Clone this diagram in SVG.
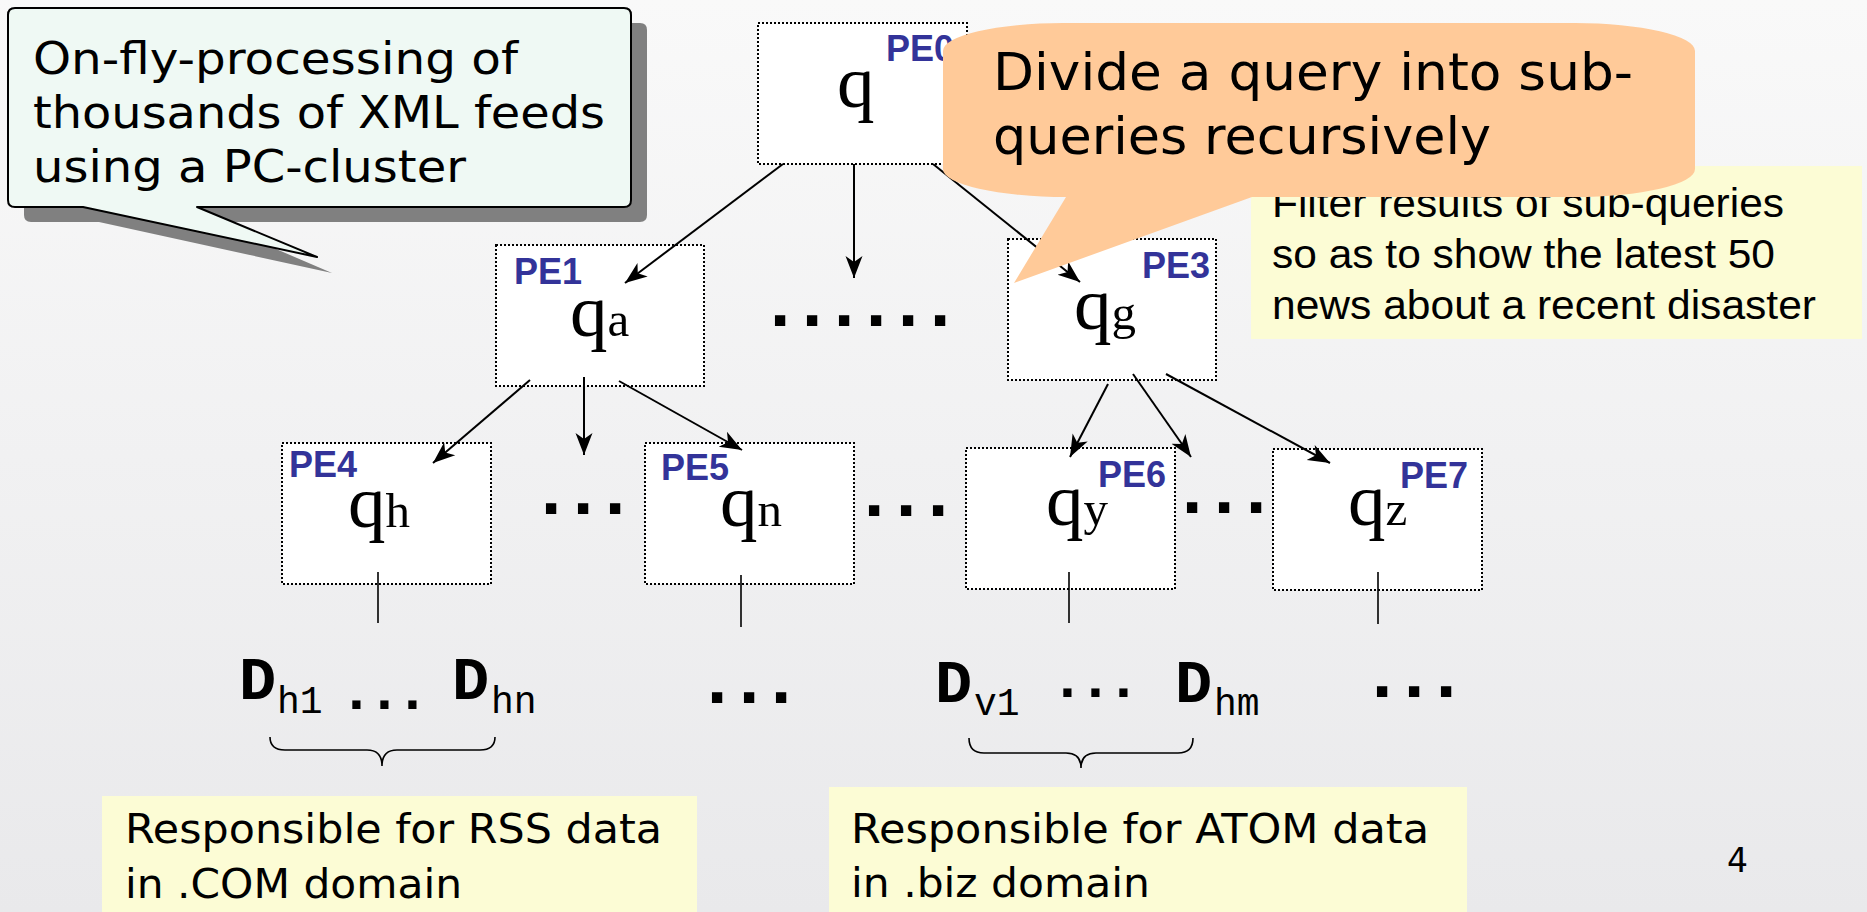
<svg xmlns="http://www.w3.org/2000/svg" width="1867" height="912" viewBox="0 0 1867 912">
  <defs>
    <linearGradient id="bg" x1="0" y1="0" x2="0" y2="1">
      <stop offset="0" stop-color="#f9f9f9"/>
      <stop offset="1" stop-color="#e9e9eb"/>
    </linearGradient>
    <marker id="arrow" markerUnits="userSpaceOnUse" markerWidth="24" markerHeight="20" viewBox="-22 -10 24 20" refX="0" refY="0" orient="auto">
      <path d="M0,0 L-22,-8.5 L-16,0 L-22,8.5 Z" fill="#000"/>
    </marker>
    <style>
      .box { fill: #ffffff; stroke: #000; stroke-width: 2; stroke-dasharray: 2 2; }
      .pe { font-family: "Liberation Sans", Arial, sans-serif; font-weight: bold; font-size: 36px; fill: #333399; }
      .q { font-family: "Liberation Serif", "Times New Roman", serif; font-size: 75px; fill: #000; }
      .sub { font-size: 49px; }
      .edge { stroke: #000; stroke-width: 2; fill: none; marker-end: url(#arrow); }
      .stem { stroke: #000; stroke-width: 1.6; fill: none; }
      .brace { stroke: #000; stroke-width: 1.6; fill: none; }
      .dots { font-family: "Liberation Sans", Arial, sans-serif; font-weight: bold; font-size: 73px; letter-spacing: 11.7px; fill: #000; }
      .dname { font-family: "Liberation Mono", "Courier New", monospace; font-weight: bold; font-size: 62px; fill: #000; }
      .dsub { font-family: "Liberation Mono", "Courier New", monospace; font-size: 38px; fill: #000; }
      .ddots { font-family: "Liberation Mono", "Courier New", monospace; font-weight: bold; font-size: 58px; letter-spacing: -6.8px; fill: #000; }
      .verd { font-family: "DejaVu Sans", Verdana, sans-serif; fill: #000; }
      .arial { font-family: "Liberation Sans", Arial, sans-serif; fill: #000; }
      .note { fill: #fcfcd5; }
    </style>
  </defs>

  <!-- slide background -->
  <rect x="0" y="0" width="1867" height="912" fill="url(#bg)"/>

  <!-- speech bubble, top left -->
  <g id="callout-cluster">
    <path d="M31,23 H640 Q647,23 647,30 V215 Q647,222 640,222 H213 L332,273 L99,222 H31 Q24,222 24,215 V30 Q24,23 31,23 Z" fill="#808080"/>
    <path d="M15,8 H624 Q631,8 631,15 V200 Q631,207 624,207 H197 L317,257 L83,207 H15 Q8,207 8,200 V15 Q8,8 15,8 Z" fill="#eff9f4" stroke="#000" stroke-width="2" stroke-linejoin="round"/>
    <text class="verd" font-size="45" x="33" y="74" textLength="485" lengthAdjust="spacingAndGlyphs">On-fly-processing of</text>
    <text class="verd" font-size="45" x="33" y="128" textLength="572" lengthAdjust="spacingAndGlyphs">thousands of XML feeds</text>
    <text class="verd" font-size="45" x="33" y="182" textLength="433" lengthAdjust="spacingAndGlyphs">using a PC-cluster</text>
  </g>

  <!-- yellow notes -->
  <g id="note-filter">
    <rect class="note" x="1251" y="166" width="611" height="173"/>
    <text class="arial" font-size="41" x="1272" y="217" textLength="512" lengthAdjust="spacingAndGlyphs">Filter results of sub-queries</text>
    <text class="arial" font-size="41" x="1272" y="268" textLength="503" lengthAdjust="spacingAndGlyphs">so as to show the latest 50</text>
    <text class="arial" font-size="41" x="1272" y="319" textLength="544" lengthAdjust="spacingAndGlyphs">news about a recent disaster</text>
  </g>
  <g id="note-rss">
    <rect class="note" x="102" y="796" width="595" height="116"/>
    <text class="verd" font-size="40" x="125" y="843" textLength="537" lengthAdjust="spacingAndGlyphs">Responsible for RSS data</text>
    <text class="verd" font-size="40" x="125" y="898" textLength="337" lengthAdjust="spacingAndGlyphs">in .COM domain</text>
  </g>
  <g id="note-atom">
    <rect class="note" x="829" y="787" width="638" height="125"/>
    <text class="verd" font-size="40" x="851" y="843" textLength="578" lengthAdjust="spacingAndGlyphs">Responsible for ATOM data</text>
    <text class="verd" font-size="40" x="851" y="897" textLength="299" lengthAdjust="spacingAndGlyphs">in .biz domain</text>
  </g>

  <!-- processing elements -->
  <g id="pe0">
    <rect class="box" x="758" y="23" width="209" height="141"/>
    <text class="pe" x="886" y="61">PE0</text>
    <text class="q" x="837" y="107">q</text>
  </g>
  <g id="pe1">
    <rect class="box" x="496" y="245" width="208" height="141"/>
    <text class="pe" x="514" y="284">PE1</text>
    <text class="q" x="570" y="336">q<tspan class="sub">a</tspan></text>
  </g>
  <g id="pe3">
    <rect class="box" x="1008" y="239" width="208" height="141"/>
    <text class="pe" x="1142" y="278">PE3</text>
    <text class="q" x="1074" y="329">q<tspan class="sub">g</tspan></text>
  </g>
  <g id="pe4">
    <rect class="box" x="282" y="443" width="209" height="141"/>
    <text class="pe" x="289" y="477">PE4</text>
    <text class="q" x="348" y="527">q<tspan class="sub">h</tspan></text>
  </g>
  <g id="pe5">
    <rect class="box" x="645" y="443" width="209" height="141"/>
    <text class="pe" x="661" y="480">PE5</text>
    <text class="q" x="720" y="526">q<tspan class="sub">n</tspan></text>
  </g>
  <g id="pe6">
    <rect class="box" x="966" y="448" width="209" height="141"/>
    <text class="pe" x="1098" y="487">PE6</text>
    <text class="q" x="1046" y="525">q<tspan class="sub">y</tspan></text>
  </g>
  <g id="pe7">
    <rect class="box" x="1273" y="449" width="209" height="141"/>
    <text class="pe" x="1400" y="488">PE7</text>
    <text class="q" x="1348" y="525">q<tspan class="sub">z</tspan></text>
  </g>

  <!-- ellipses between siblings -->
  <g id="ellipses">
    <text class="dots" x="770" y="326">......</text>
    <text class="dots" x="541" y="514">...</text>
    <text class="dots" x="864" y="516">...</text>
    <text class="dots" x="1182" y="513">...</text>
    <text class="dots" x="707" y="703">...</text>
    <text class="dots" x="1372" y="697">...</text>
  </g>

  <!-- data sources -->
  <g id="data-rss">
    <text class="dname" x="239" y="699">D</text>
    <text class="dsub" x="277" y="713">h1</text>
    <text class="ddots" x="339" y="709">...</text>
    <text class="dname" x="452" y="699">D</text>
    <text class="dsub" x="491" y="713">hn</text>
    <path class="brace" d="M270,737 Q270,750 285,750 L367,750 Q382,750 382,766 Q382,750 397,750 L480,750 Q495,750 495,737"/>
  </g>
  <g id="data-atom">
    <text class="dname" x="935" y="702">D</text>
    <text class="dsub" x="974" y="715">v1</text>
    <text class="ddots" x="1050" y="697">...</text>
    <text class="dname" x="1175" y="702">D</text>
    <text class="dsub" x="1214" y="715">hm</text>
    <path class="brace" d="M969,738 Q969,753 984,753 L1066,753 Q1081,753 1081,768 Q1081,753 1096,753 L1178,753 Q1193,753 1193,738"/>
  </g>

  <!-- connectors -->
  <g id="connectors">
    <line class="edge" x1="783" y1="164" x2="625" y2="283"/>
    <line class="edge" x1="854" y1="164" x2="854" y2="278"/>
    <line class="edge" x1="933" y1="164" x2="1080" y2="282"/>
    <line class="edge" x1="530" y1="380" x2="433" y2="463"/>
    <line class="edge" x1="584" y1="377" x2="584" y2="455"/>
    <line class="edge" x1="619" y1="381" x2="742" y2="450"/>
    <line class="edge" x1="1108" y1="384" x2="1070" y2="457"/>
    <line class="edge" x1="1133" y1="374" x2="1191" y2="457"/>
    <line class="edge" x1="1166" y1="374" x2="1330" y2="463"/>
    <line class="stem" x1="378" y1="572" x2="378" y2="623"/>
    <line class="stem" x1="741" y1="575" x2="741" y2="627"/>
    <line class="stem" x1="1069" y1="572" x2="1069" y2="623"/>
    <line class="stem" x1="1378" y1="572" x2="1378" y2="624"/>
  </g>

  <!-- speech bubble over the tree -->
  <g id="callout-divide">
    <path d="M943,51 A120,28 0 0 1 1063,23 H1575 A120,28 0 0 1 1695,51 V169 A120,28 0 0 1 1575,197 H1252 L1014,283 L1066,197 A123,28 0 0 1 943,169 Z" fill="#ffca99"/>
    <text class="verd" font-size="52" x="993" y="90" textLength="640" lengthAdjust="spacingAndGlyphs">Divide a query into sub-</text>
    <text class="verd" font-size="52" x="993" y="154" textLength="498" lengthAdjust="spacingAndGlyphs">queries recursively</text>
  </g>

  <!-- slide number -->
  <text class="verd" font-size="33" x="1727" y="872">4</text>
</svg>
